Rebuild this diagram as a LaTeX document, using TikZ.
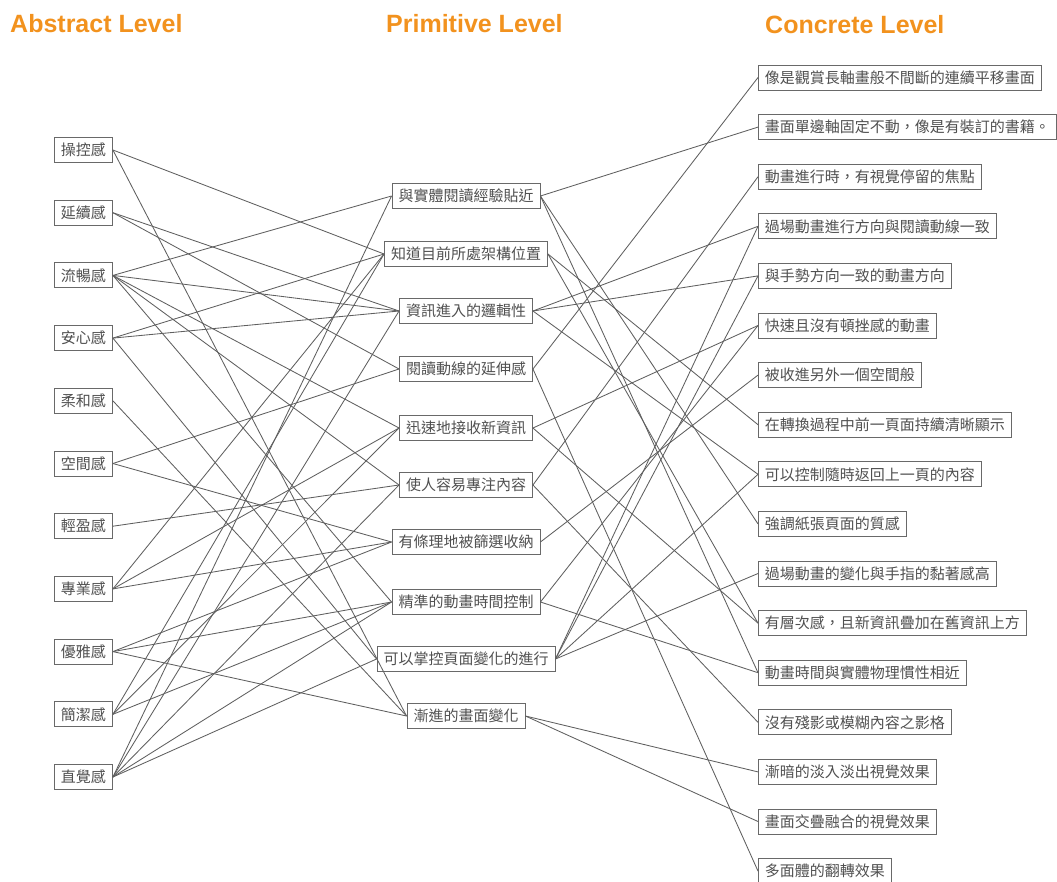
\documentclass[tikz,border=0pt]{standalone}
\usepackage{fontspec}
\setsansfont{Liberation Sans}
\newfontfamily\cjk{Noto Sans CJK TC}

\definecolor{levelorange}{RGB}{242,146,30}
\definecolor{boxgray}{RGB}{105,105,105}
\definecolor{linkgray}{RGB}{95,95,95}
\definecolor{textgray}{RGB}{80,80,80}

\tikzset{
  item/.style={draw=boxgray, line width=0.9pt, text=textgray,
    font=\cjk\fontsize{15}{15}\selectfont,
    inner xsep=6.5pt, inner ysep=0pt, minimum height=25pt},
  link/.style={draw=linkgray, line width=0.85pt},
  level/.style={text=levelorange, inner sep=0pt,
    font=\sffamily\bfseries\fontsize{25}{25}\selectfont},
}

\begin{document}
\begin{tikzpicture}[x=1pt,y=-1pt]
    %
    % Independent parameters
    \def\colA{54}                 % left edge, abstract column
    \def\colP{466}                % centre, primitive column
    \def\colC{758}                % left edge, concrete column
    \def\rowA{62.7}               % row step, abstract column
    \def\rowC{49.6}               % row step, concrete column
    %
    \useasboundingbox (0,0) rectangle (1057,881);
    %
    % titles
    \node[level, anchor=base west] (tA) at (10,32) {Abstract Level};
    \node[level, anchor=base west] (tP) at (386,32) {Primitive Level};
    \node[level, anchor=base west] (tC) at (765,33) {Concrete Level};
    %
    % abstract level
    \foreach [count=\k] \lbl in {操控感,延續感,流暢感,安心感,柔和感,空間感,
        輕盈感,專業感,優雅感,簡潔感,直覺感}
    {
     \pgfmathsetmacro\y{150+(\k-1)*\rowA}
     \node[item, anchor=west] (a\k) at (\colA,\y) {\lbl};
    }
    %
    % primitive level
    \foreach [count=\k] \y/\lbl in {196/與實體閱讀經驗貼近,254/知道目前所處架構位置,
        311/資訊進入的邏輯性,369/閱讀動線的延伸感,428/迅速地接收新資訊,
        485/使人容易專注內容,542/有條理地被篩選收納,602/精準的動畫時間控制,
        659/可以掌控頁面變化的進行,716/漸進的畫面變化}
    {
     \node[item] (p\k) at (\colP,\y) {\lbl};
    }
    %
    % concrete level
    \foreach [count=\k] \lbl in {像是觀賞長軸畫般不間斷的連續平移畫面,
        畫面單邊軸固定不動，像是有裝訂的書籍。,動畫進行時，有視覺停留的焦點,
        過場動畫進行方向與閱讀動線一致,與手勢方向一致的動畫方向,
        快速且沒有頓挫感的動畫,被收進另外一個空間般,
        在轉換過程中前一頁面持續清晰顯示,可以控制隨時返回上一頁的內容,
        強調紙張頁面的質感,過場動畫的變化與手指的黏著感高,
        有層次感，且新資訊疊加在舊資訊上方,動畫時間與實體物理慣性相近,
        沒有殘影或模糊內容之影格,漸暗的淡入淡出視覺效果,
        畫面交疊融合的視覺效果,多面體的翻轉效果}
    {
     \pgfmathsetmacro\y{77.5+(\k-1)*\rowC}
     \node[item, anchor=west] (c\k) at (\colC,\y) {\lbl};
    }
    %
    % abstract -> primitive
    \foreach \i/\j in {1/2,1/10,2/3,2/4,3/1,3/3,3/5,3/6,3/8,4/2,4/3,4/9,
        5/10,6/4,6/7,7/6,8/2,8/5,8/7,9/7,9/8,9/10,10/2,10/5,10/8,
        11/1,11/3,11/6,11/8,11/9}
    {
     \draw[link] (a\i.east) -- (p\j.west);
    }
    %
    % primitive -> concrete
    \foreach \i/\j in {1/2,1/10,1/13,2/8,2/12,3/4,3/5,3/9,4/1,4/17,
        5/6,5/12,6/3,6/14,7/7,8/6,8/13,9/4,9/5,9/9,9/11,10/15,10/16}
    {
     \draw[link] (p\i.east) -- (c\j.west);
    }
\end{tikzpicture}
\end{document}
